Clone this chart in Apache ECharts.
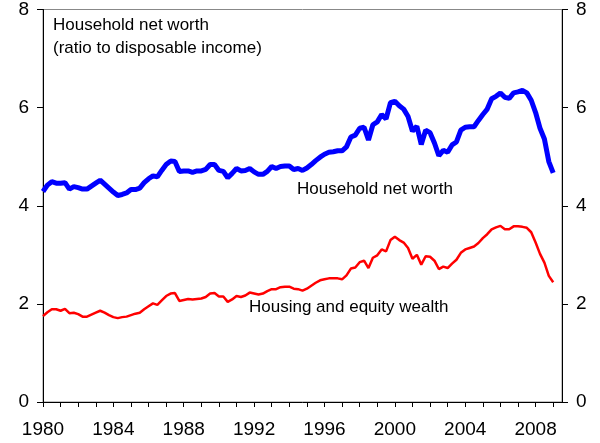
<!DOCTYPE html>
<html>
<head>
<meta charset="utf-8">
<script src="https://cdn.jsdelivr.net/npm/echarts@6/dist/echarts.min.js"></script>
<style>
html,body{margin:0;padding:0;background:#fff;}
#c{width:600px;height:443px;}
</style>
</head>
<body>
<div id="c"></div>
<script>
// Quarterly data, 1980Q1 .. 2009Q1
const startYear = 1980;
const netWorth = [
  4.29,4.42,4.49,4.46, 4.46,4.47,4.34,4.39, 4.37,4.34,4.34,4.40, 4.46,4.52,4.44,4.36,
  4.28,4.21,4.23,4.26, 4.33,4.33,4.36,4.47, 4.55,4.61,4.59,4.72, 4.84,4.91,4.90,4.70,
  4.71,4.71,4.68,4.71, 4.71,4.74,4.84,4.84, 4.72,4.70,4.57,4.66, 4.76,4.71,4.72,4.76,
  4.69,4.64,4.64,4.70, 4.80,4.76,4.80,4.81, 4.81,4.74,4.76,4.72, 4.77,4.84,4.92,4.99,
  5.05,5.09,5.10,5.12, 5.12,5.20,5.40,5.44, 5.58,5.60,5.34,5.65, 5.71,5.86,5.77,6.10,
  6.13,6.04,5.97,5.82, 5.52,5.62,5.25,5.54, 5.49,5.28,5.02,5.13, 5.09,5.24,5.30,5.54,
  5.60,5.61,5.61,5.74, 5.86,5.97,6.18,6.23, 6.30,6.21,6.19,6.30, 6.32,6.35,6.30,6.15,
  5.90,5.58,5.36,4.90, 4.67
];
const housingEquity = [
  1.75,1.83,1.89,1.89, 1.86,1.90,1.81,1.82, 1.79,1.74,1.74,1.78, 1.82,1.86,1.82,1.77,
  1.73,1.71,1.73,1.74, 1.77,1.80,1.82,1.89, 1.95,2.01,1.98,2.07, 2.16,2.21,2.22,2.06,
  2.08,2.10,2.09,2.10, 2.11,2.14,2.21,2.22, 2.15,2.15,2.04,2.09, 2.16,2.14,2.17,2.23,
  2.21,2.19,2.21,2.26, 2.30,2.30,2.34,2.35, 2.35,2.31,2.30,2.27, 2.31,2.37,2.43,2.48,
  2.50,2.52,2.52,2.52, 2.50,2.58,2.72,2.74, 2.85,2.88,2.73,2.94, 2.99,3.11,3.07,3.30,
  3.37,3.30,3.25,3.14, 2.92,3.00,2.80,2.97, 2.96,2.88,2.71,2.76, 2.73,2.82,2.90,3.04,
  3.11,3.14,3.17,3.24, 3.34,3.42,3.52,3.56, 3.59,3.52,3.52,3.58, 3.58,3.57,3.55,3.46,
  3.25,3.02,2.84,2.57, 2.44
];
const yTicks = [0, 2, 4, 6, 8];
const xLabelYears = [1980, 1984, 1988, 1992, 1996, 2000, 2004, 2008];
const titleLines = ['Household net worth', '(ratio to disposable income)'];
const netWorthLabel = 'Household net worth';
const housingLabel = 'Housing and equity wealth';

const quarters = netWorth.map((_, i) => startYear + i / 4);
const nwData = quarters.map((q, i) => [q, netWorth[i]]);
const heData = quarters.map((q, i) => [q, housingEquity[i]]);

const FONT = 'Liberation Sans, Arial, sans-serif';
const chart = echarts.init(document.getElementById('c'), null, {renderer: 'canvas'});

const yAxisBase = {
  type: 'value', min: 0, max: 8, interval: 2,
  splitLine: {show: false},
  axisLine: {show: true, lineStyle: {color: '#000', width: 1}},
  axisTick: {show: true, inside: false, length: 6, lineStyle: {color: '#000'}},
  axisLabel: {
    fontFamily: FONT, fontSize: 19, color: '#000', margin: 14,
    formatter: v => yTicks.includes(v) ? String(v) : ''
  }
};

chart.setOption({
  animation: false,
  backgroundColor: '#fff',
  grid: {left: 43, right: 38, top: 7, bottom: 41, show: true, borderColor: '#888', borderWidth: 1, containLabel: false},
  xAxis: {
    type: 'value', min: 1980, max: 2009.5, interval: 1,
    splitLine: {show: false},
    axisLine: {show: true, onZero: false, lineStyle: {color: '#000', width: 1}},
    axisTick: {show: true, length: 5, lineStyle: {color: '#000'}},
    axisLabel: {
      fontFamily: FONT, fontSize: 19, color: '#000', margin: 18,
      showMaxLabel: false,
      formatter: v => xLabelYears.includes(v) ? String(v) : ''
    }
  },
  yAxis: [
    Object.assign({}, yAxisBase, {position: 'left'}),
    Object.assign({}, yAxisBase, {position: 'right'})
  ],
  series: [
    {
      name: housingLabel, type: 'line', data: heData, showSymbol: false, yAxisIndex: 0,
      lineStyle: {color: '#ff0000', width: 2.5}, z: 3
    },
    {
      name: netWorthLabel, type: 'line', data: nwData, showSymbol: false, yAxisIndex: 0,
      lineStyle: {color: '#0000ff', width: 5}, z: 4
    }
  ],
  graphic: [
    {type: 'text', left: 53, top: 14, style: {text: titleLines.join('\n'), font: '17px ' + FONT, fill: '#000', lineHeight: 23}},
    {type: 'text', left: 297, top: 181, style: {text: netWorthLabel, font: '17px ' + FONT, fill: '#000'}},
    {type: 'text', left: 249, top: 299, style: {text: housingLabel, font: '17px ' + FONT, fill: '#000'}}
  ]
});
</script>
</body>
</html>
